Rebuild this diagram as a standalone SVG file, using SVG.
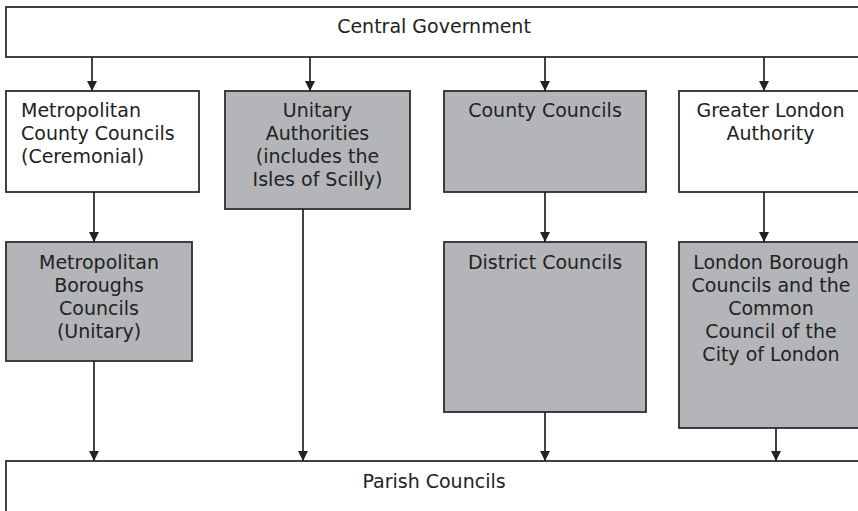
<svg xmlns="http://www.w3.org/2000/svg" width="858" height="511" viewBox="0 0 858 511">
<style>
.box{stroke:#2e2e2e;stroke-width:1.8}
.w{fill:#ffffff}
.g{fill:#b4b5b9}
text{font-family:"DejaVu Sans","Verdana",sans-serif;font-size:19px;fill:#222222}
.c{text-anchor:middle}
.conn line{stroke:#222222;stroke-width:1.7;marker-end:url(#ah)}
</style>
<defs>
<marker id="ah" markerWidth="10" markerHeight="10" refX="10" refY="5" orient="auto" markerUnits="userSpaceOnUse">
<path d="M0,0 L10,5 L0,10 Z" fill="#222222"/>
</marker>
</defs>
<rect width="858" height="511" fill="#ffffff"/>
<g id="central">
<rect class="box w" x="6" y="7" width="860" height="50"/>
<text class="c" x="434" y="33">Central Government</text>
</g>
<g id="metcounty">
<rect class="box w" x="6" y="91" width="193" height="101"/>
<text x="21" y="117">Metropolitan</text>
<text x="21" y="140">County Councils</text>
<text x="21" y="163">(Ceremonial)</text>
</g>
<g id="unitary">
<rect class="box g" x="225" y="91" width="185" height="118"/>
<text class="c" x="317.5" y="117">Unitary</text>
<text class="c" x="317.5" y="140">Authorities</text>
<text class="c" x="317.5" y="163">(includes the</text>
<text class="c" x="317.5" y="186">Isles of Scilly)</text>
</g>
<g id="county">
<rect class="box g" x="444" y="91" width="202" height="101"/>
<text class="c" x="545" y="117">County Councils</text>
</g>
<g id="gla">
<rect class="box w" x="679" y="91" width="190" height="101"/>
<text class="c" x="770.5" y="117">Greater London</text>
<text class="c" x="770.5" y="140">Authority</text>
</g>
<g id="metborough">
<rect class="box g" x="6" y="242" width="186" height="119"/>
<text class="c" x="99" y="269">Metropolitan</text>
<text class="c" x="99" y="292">Boroughs</text>
<text class="c" x="99" y="315">Councils</text>
<text class="c" x="99" y="338">(Unitary)</text>
</g>
<g id="district">
<rect class="box g" x="444" y="242" width="202" height="170"/>
<text class="c" x="545" y="269">District Councils</text>
</g>
<g id="londonborough">
<rect class="box g" x="679" y="242" width="190" height="186"/>
<text class="c" x="771" y="269">London Borough</text>
<text class="c" x="771" y="292">Councils and the</text>
<text class="c" x="771" y="315">Common</text>
<text class="c" x="771" y="338">Council of the</text>
<text class="c" x="771" y="361">City of London</text>
</g>
<g id="parish">
<rect class="box w" x="6" y="461" width="860" height="60"/>
<text class="c" x="434" y="488">Parish Councils</text>
</g>
<g class="conn" id="connectors">
<line x1="92" y1="57" x2="92" y2="91"/>
<line x1="310" y1="57" x2="310" y2="91"/>
<line x1="545" y1="57" x2="545" y2="91"/>
<line x1="764" y1="57" x2="764" y2="91"/>
<line x1="94" y1="192" x2="94" y2="242"/>
<line x1="545" y1="192" x2="545" y2="242"/>
<line x1="764" y1="192" x2="764" y2="242"/>
<line x1="94" y1="361" x2="94" y2="461"/>
<line x1="303" y1="209" x2="303" y2="461"/>
<line x1="545" y1="412" x2="545" y2="461"/>
<line x1="776" y1="428" x2="776" y2="461"/>
</g>
</svg>
